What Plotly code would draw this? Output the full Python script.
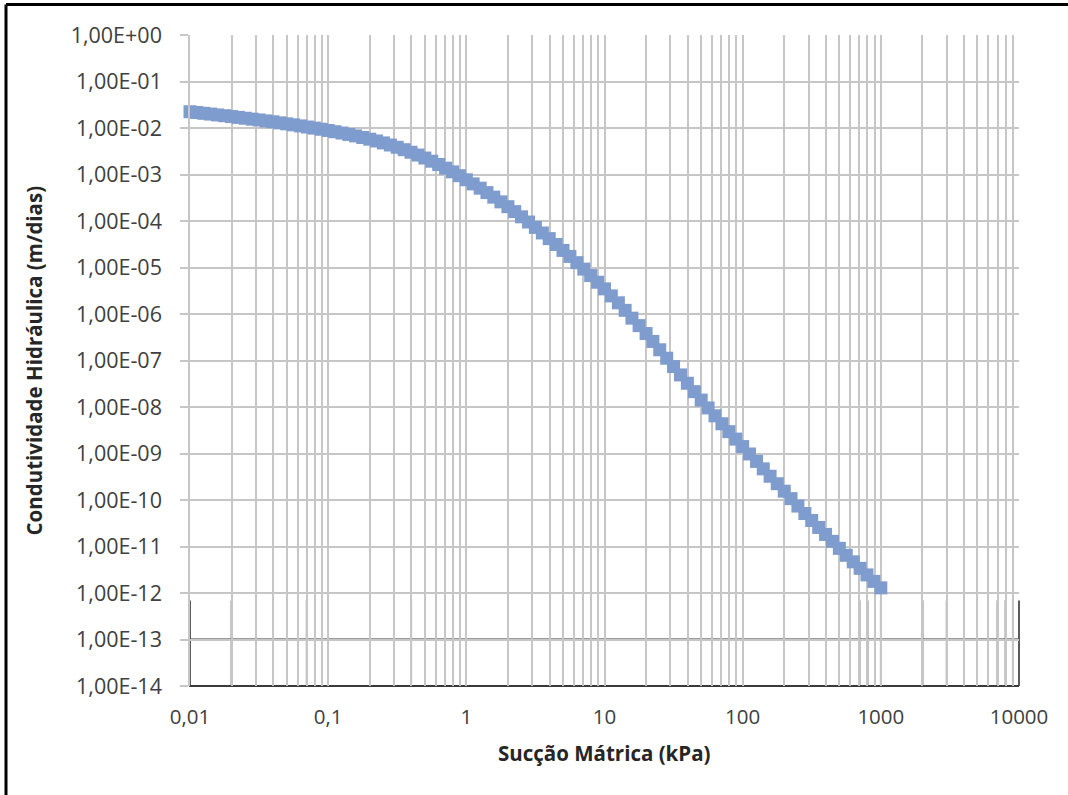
import math
import plotly.graph_objects as go

# ---------------- data ----------------
succao_kpa = [
    0.01, 0.0112, 0.0126, 0.0141, 0.0158, 0.0178, 0.02, 0.0224, 0.0251, 0.0282,
    0.0316, 0.0355, 0.0398, 0.0447, 0.0501, 0.0562, 0.0631, 0.0708, 0.0794, 0.0891,
    0.1, 0.112, 0.126, 0.141, 0.158, 0.178, 0.2, 0.224, 0.251, 0.282,
    0.316, 0.355, 0.398, 0.447, 0.501, 0.562, 0.631, 0.708, 0.794, 0.891,
    1.0, 1.12, 1.26, 1.41, 1.58, 1.78, 2.0, 2.24, 2.51, 2.82,
    3.16, 3.55, 3.98, 4.47, 5.01, 5.62, 6.31, 7.08, 7.94, 8.91,
    10.0, 11.2, 12.6, 14.1, 15.8, 17.8, 20.0, 22.4, 25.1, 28.2,
    31.6, 35.5, 39.8, 44.7, 50.1, 56.2, 63.1, 70.8, 79.4, 89.1,
    100.0, 112.0, 126.0, 141.0, 158.0, 178.0, 200.0, 224.0, 251.0, 282.0,
    316.0, 355.0, 398.0, 447.0, 501.0, 562.0, 631.0, 708.0, 794.0, 891.0,
    1000.0,
]
condutividade = [
    2.24e-2, 2.15e-2, 2.07e-2, 1.99e-2, 1.91e-2, 1.84e-2, 1.76e-2, 1.69e-2, 1.62e-2, 1.55e-2,
    1.49e-2, 1.42e-2, 1.36e-2, 1.29e-2, 1.23e-2, 1.17e-2, 1.11e-2, 1.05e-2, 9.95e-3, 9.40e-3,
    8.85e-3, 8.32e-3, 7.80e-3, 7.28e-3, 6.76e-3, 6.25e-3, 5.75e-3, 5.26e-3, 4.78e-3, 4.31e-3,
    3.85e-3, 3.42e-3, 3.01e-3, 2.62e-3, 2.26e-3, 1.93e-3, 1.64e-3, 1.37e-3, 1.14e-3, 9.42e-4,
    7.71e-4, 6.28e-4, 5.08e-4, 4.08e-4, 3.26e-4, 2.58e-4, 2.03e-4, 1.59e-4, 1.23e-4, 9.51e-5,
    7.28e-5, 5.53e-5, 4.18e-5, 3.13e-5, 2.33e-5, 1.73e-5, 1.27e-5, 9.25e-6, 6.70e-6, 4.82e-6,
    3.47e-6, 2.45e-6, 1.74e-6, 1.20e-6, 8.13e-7, 5.62e-7, 3.80e-7, 2.57e-7, 1.70e-7, 1.12e-7,
    7.41e-8, 4.90e-8, 3.24e-8, 2.14e-8, 1.41e-8, 9.55e-9, 6.46e-9, 4.37e-9, 2.95e-9, 2.04e-9,
    1.41e-9, 9.77e-10, 6.76e-10, 4.68e-10, 3.24e-10, 2.24e-10, 1.55e-10, 1.07e-10, 7.41e-11, 5.13e-11,
    3.63e-11, 2.57e-11, 1.82e-11, 1.29e-11, 9.12e-12, 6.46e-12, 4.68e-12, 3.39e-12, 2.45e-12, 1.78e-12,
    1.29e-12,
]

x_decades = [0.01, 0.1, 1, 10, 100, 1000, 10000]
x_tick_labels = ["0,01", "0,1", "1", "10", "100", "1000", "10000"]
x_grid_digits = [1, 2, 3, 4, 5, 6, 7, 8, 9]

y_tick_values = [10.0 ** (-k) for k in range(0, 15)]
y_tick_labels = ["1,00E+00"] + ["1,00E-%02d" % k for k in range(1, 15)]

x_title = "Sucção Mátrica (kPa)"
y_title = "Condutividade Hidráulica (m/dias)"

# rendering artefact in the lower band of the original picture
dark_lower_lines = [0.01, 0.02, 0.07, 0.3, 700, 800, 1000, 2000, 3000, 7000, 8000, 10000]
mid_lower_lines = [0.08, 0.1, 0.4, 0.9, 4000, 9000]

# ---------------- figure ----------------
grid_vals, grid_text = [], []
for d in x_decades[:-1]:
    for m in x_grid_digits:
        v = d * m
        grid_vals.append(v)
        grid_text.append(x_tick_labels[x_decades.index(d)] if m == 1 else "")
grid_vals.append(x_decades[-1])
grid_text.append(x_tick_labels[-1])

GRID = "#c6c6c6"
XTICKFONT = dict(family="Open Sans, sans-serif", size=20.5, color="#404040")
YTICKFONT = dict(family="Open Sans, sans-serif", size=21.5, color="#404040")
TITLEFONT = dict(family="Open Sans, sans-serif", size=20.5, color="#262626")

fig = go.Figure()
fig.add_trace(go.Scatter(
    x=succao_kpa, y=condutividade, mode="markers",
    marker=dict(symbol="square", size=13, color="rgb(127,156,206)",
                line=dict(width=0)),
    showlegend=False, cliponaxis=False,
))

XMIN, XMAX = math.log10(x_decades[0]), math.log10(x_decades[-1])
YMIN, YMAX = math.log10(y_tick_values[-1]), math.log10(y_tick_values[0])


def xp(v):
    return (math.log10(v) - XMIN) / (XMAX - XMIN)


def yp(v):
    return (math.log10(v) - YMIN) / (YMAX - YMIN)


shapes = []
gap_top = yp(10 ** -12.035)
gap_bot = yp(10 ** -12.16)
shapes.append(dict(type="rect", xref="paper", yref="paper", x0=-0.001, x1=1.002,
                   y0=gap_bot, y1=gap_top, fillcolor="white",
                   line=dict(width=0), layer="between"))
for v in dark_lower_lines:
    shapes.append(dict(type="line", xref="paper", yref="paper", x0=xp(v), x1=xp(v),
                       y0=0, y1=gap_bot, line=dict(color="#4a4a4a", width=1.8),
                       layer="between"))
for v in mid_lower_lines:
    shapes.append(dict(type="line", xref="paper", yref="paper", x0=xp(v), x1=xp(v),
                       y0=0, y1=gap_bot, line=dict(color="#808080", width=1.5),
                       layer="between"))
for v in (1e-13, 1e-14):
    shapes.append(dict(type="line", xref="paper", yref="paper", x0=-0.001, x1=1.0,
                       y0=yp(v), y1=yp(v), line=dict(color="#3a3a3a", width=2),
                       layer="between"))

# outer frame (only top and left edges are visible in the picture)
PL, PT, PW, PH = 190, 35, 829, 651
def fx(px):
    return (px - PL) / PW
def fy(py):
    return (PT + PH - py) / PH
shapes.append(dict(type="line", xref="paper", yref="paper",
                   x0=fx(6), x1=fx(1075), y0=fy(4.5), y1=fy(4.5),
                   line=dict(color="black", width=3)))
shapes.append(dict(type="line", xref="paper", yref="paper",
                   x0=fx(6), x1=fx(6), y0=fy(4.5), y1=fy(800),
                   line=dict(color="black", width=3)))

fig.update_layout(
    width=1068, height=795, autosize=False,
    margin=dict(l=PL, r=1068 - PL - PW, t=PT, b=795 - PT - PH),
    paper_bgcolor="white", plot_bgcolor="white",
    shapes=shapes,
    xaxis=dict(
        type="log", range=[XMIN, XMAX],
        tickmode="array", tickvals=grid_vals, ticktext=grid_text,
        showgrid=True, gridcolor=GRID, gridwidth=1.5,
        ticks="", ticklabelstandoff=16, tickfont=XTICKFONT,
        showline=False, zeroline=False,
    ),
    yaxis=dict(
        type="log", range=[YMIN, YMAX],
        tickmode="array", tickvals=y_tick_values, ticktext=y_tick_labels,
        showgrid=True, gridcolor=GRID, gridwidth=1.5,
        ticks="outside", ticklen=8, tickwidth=1.5, tickcolor=GRID,
        ticklabelstandoff=14, tickfont=YTICKFONT,
        showline=True, linecolor=GRID, linewidth=1.5, zeroline=False,
    ),
    annotations=[
        dict(text="<b>%s</b>" % x_title, xref="paper", yref="paper",
             x=0.5, y=fy(753), xanchor="center", yanchor="middle",
             showarrow=False, font=TITLEFONT),
        dict(text="<b>%s</b>" % y_title, xref="paper", yref="paper",
             x=fx(33), y=0.5, xanchor="center", yanchor="middle", textangle=-90,
             showarrow=False, font=TITLEFONT),
    ],
)

fig.write_html(
    "out.html",
    config={"displayModeBar": False},
    post_script="document.body.style.margin='0';document.body.style.overflow='hidden';",
)
